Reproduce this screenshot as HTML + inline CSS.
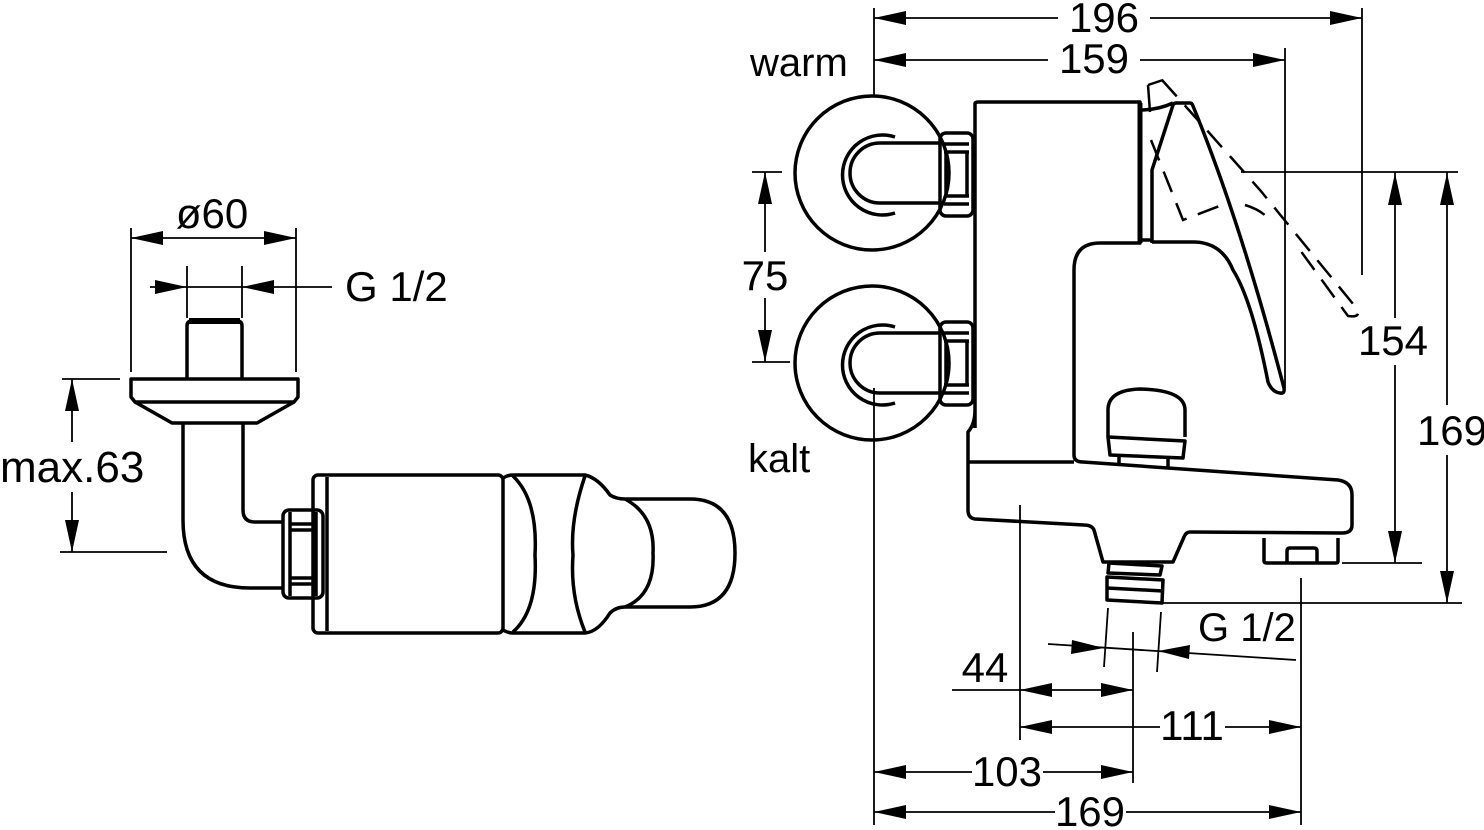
<!DOCTYPE html>
<html><head><meta charset="utf-8"><style>
html,body{margin:0;padding:0;background:#fff;}
svg{display:block;}
text{font-family:"Liberation Sans",sans-serif;fill:#000;}
</style></head><body>
<svg width="1484" height="830" viewBox="0 0 1484 830" xmlns="http://www.w3.org/2000/svg">
<g fill="none" stroke="#000" stroke-width="1.8">
<line x1="131" y1="228" x2="131" y2="372"/><line x1="296" y1="228" x2="296" y2="372"/>
<line x1="131" y1="238" x2="296" y2="238"/>
<line x1="187" y1="266" x2="187" y2="318"/><line x1="242" y1="266" x2="242" y2="318"/>
<line x1="150" y1="287" x2="332" y2="287"/>
<line x1="62" y1="379" x2="120" y2="379"/><line x1="60" y1="552" x2="167" y2="552"/>
<line x1="72" y1="379" x2="72" y2="442"/><line x1="72" y1="492" x2="72" y2="552"/>
<line x1="874" y1="8" x2="874" y2="96"/><line x1="1362" y1="8" x2="1362" y2="275"/>
<line x1="1285" y1="48" x2="1285" y2="388"/>
<line x1="874" y1="18" x2="1058" y2="18"/><line x1="1150" y1="18" x2="1362" y2="18"/>
<line x1="874" y1="60" x2="1048" y2="60"/><line x1="1140" y1="60" x2="1285" y2="60"/>
<line x1="752" y1="172" x2="782" y2="172"/><line x1="752" y1="362" x2="790" y2="362"/>
<line x1="765" y1="172" x2="765" y2="252"/><line x1="765" y1="298" x2="765" y2="362"/>
<line x1="1241" y1="172" x2="1458" y2="172"/>
<line x1="1342" y1="563" x2="1422" y2="563"/><line x1="1163" y1="603" x2="1462" y2="603"/>
<line x1="1395" y1="172" x2="1395" y2="318"/><line x1="1395" y1="365" x2="1395" y2="563"/>
<line x1="1447" y1="172" x2="1447" y2="405"/><line x1="1447" y1="455" x2="1447" y2="603"/>
<line x1="874" y1="388" x2="874" y2="825"/>
<line x1="1020" y1="505" x2="1020" y2="740"/>
<line x1="1133" y1="632" x2="1133" y2="783"/>
<line x1="1301" y1="578" x2="1301" y2="825"/>
<line x1="1108" y1="608" x2="1104" y2="667"/><line x1="1161" y1="612" x2="1157" y2="672"/>
<line x1="1048" y1="644" x2="1296" y2="660"/>
<line x1="952" y1="690" x2="1133" y2="690"/>
<line x1="1020" y1="727" x2="1160" y2="727"/><line x1="1225" y1="727" x2="1301" y2="727"/>
<line x1="874" y1="772" x2="972" y2="772"/><line x1="1043" y1="772" x2="1133" y2="772"/>
<line x1="874" y1="812" x2="1055" y2="812"/><line x1="1126" y1="812" x2="1301" y2="812"/>
</g>
<g fill="#000">
<polygon points="131,238 163,231 163,245"/><polygon points="296,238 264,231 264,245"/>
<polygon points="187,287 155,280 155,294"/><polygon points="242,287 274,280 274,294"/>
<polygon points="72,379 65,411 79,411"/><polygon points="72,552 65,520 79,520"/>
<polygon points="874,18 906,11 906,25"/><polygon points="1362,18 1330,11 1330,25"/>
<polygon points="874,60 906,53 906,67"/><polygon points="1285,60 1253,53 1253,67"/>
<polygon points="765,172 758,204 772,204"/><polygon points="765,362 758,330 772,330"/>
<polygon points="1395,173 1388,205 1402,205"/><polygon points="1395,563 1388,531 1402,531"/>
<polygon points="1447,173 1440,205 1454,205"/><polygon points="1447,603 1440,571 1454,571"/>
<polygon points="1104,648 1072,640 1071,654"/><polygon points="1158,651 1190,645 1189,659"/>
<polygon points="1020,690 1052,683 1052,697"/><polygon points="1133,690 1101,683 1101,697"/>
<polygon points="1020,727 1052,720 1052,734"/><polygon points="1301,727 1269,720 1269,734"/>
<polygon points="874,772 906,765 906,779"/><polygon points="1133,772 1101,765 1101,779"/>
<polygon points="874,812 906,805 906,819"/><polygon points="1301,812 1269,805 1269,819"/>
</g>
<g font-size="40">
<text x="212" y="228" text-anchor="middle" font-size="42">ø60</text>
<text x="345" y="301" font-size="42">G 1/2</text>
<text x="0" y="482" font-size="44">max.63</text>
<text x="1104" y="32" text-anchor="middle" font-size="42">196</text>
<text x="1094" y="73" text-anchor="middle" font-size="42">159</text>
<text x="750" y="76" font-size="40">warm</text>
<text x="748" y="472" font-size="40">kalt</text>
<text x="765" y="290" text-anchor="middle" font-size="42">75</text>
<text x="1393" y="355" text-anchor="middle" font-size="42">154</text>
<text x="1452" y="445" text-anchor="middle" font-size="42">169</text>
<text x="1198" y="641" font-size="40">G 1/2</text>
<text x="985" y="682" text-anchor="middle" font-size="42">44</text>
<text x="1192" y="740" text-anchor="middle" font-size="42">111</text>
<text x="1007" y="786" text-anchor="middle" font-size="42">103</text>
<text x="1090" y="826" text-anchor="middle" font-size="42">169</text>
</g>
<g fill="none" stroke="#000" stroke-width="3.5" stroke-linejoin="round">
<path d="M187,379 V326 Q187,321 192,321 H237 Q242,321 242,326 V379" />
<line x1="189" y1="321" x2="240" y2="321" stroke-width="6"/>
<path d="M131,379 H298 V397 L294,402 H135 L131,397 Z"/>
<path d="M135,402 L172,423 H257 L294,402"/>
<path d="M183,423 V520 Q183,588 250,588 H283"/>
<path d="M243,423 V510 Q243,522 255,522 H283"/>
<rect x="283" y="510" width="40" height="88" rx="6"/>
<path d="M290,512 V596 M316,512 V596 M290,524 H316 M290,530 H316 M290,578 H316 M290,584 H316"/>
<rect x="313" y="475" width="190" height="158" rx="5"/>
<line x1="327" y1="477" x2="327" y2="631"/>
<path d="M503,478 Q508,475 513,475 H585 Q598,478 610,495 Q616,499 625,499 H690 Q735,499 735,553 Q735,607 690,607 H625 Q616,607 610,613 Q598,632 585,633 H513 Q508,633 503,630"/>
<path d="M513,476 Q538,500 535,555 Q538,610 513,632"/>
<path d="M585,476 Q570,520 573,555 Q570,595 585,632"/>
<path d="M625,499 Q655,515 653,553 Q655,595 625,607"/>
</g>
<g fill="none" stroke="#000" stroke-width="3.5" stroke-linejoin="round">
<circle cx="872" cy="173" r="77"/>
<circle cx="872" cy="363" r="77"/>
<path d="M895,137 A40,40 0 1,0 895,213"/>
<path d="M940,143 H880 A30,30 0 0,0 880,203 H940"/>
<path d="M895,327 A40,40 0 1,0 895,403"/>
<path d="M940,333 H880 A30,30 0 0,0 880,393 H940"/>
<rect x="940" y="133" width="33" height="83" rx="6"/>
<path d="M944,144 H969 M944,152 H969 M944,196 H969 M944,204 H969 M946,152 V196 M967,152 V196"/>
<rect x="940" y="322" width="33" height="83" rx="6"/>
<path d="M944,333 H969 M944,341 H969 M944,385 H969 M944,393 H969 M946,341 V385 M967,341 V385"/>
<path d="M975,428 V104 Q975,102 978,102 H1140 V243 H1100 Q1074,243 1074,270 V455 Q1074,462 1083,462 L1338,480 Q1352,482 1352,495 V525 Q1352,533 1342,533 L1190,532 Q1186,532 1184,537 L1173,562 H1103 L1094,530 Q1092,525 1084,525 L975,519 Q968,518 968,510 V432 Q975,424 975,410"/>
<line x1="968" y1="462" x2="1074" y2="462"/>
<line x1="1140" y1="103" x2="1140" y2="243" stroke-width="5"/>
<path d="M1140,240 H1152"/>
<path d="M1140,110 Q1158,110 1173,103"/>
<path d="M1152,243 V170 L1173,105 Q1174,103 1176,103 H1190 Q1192,103 1193,106 Q1240,220 1284,388 Q1285,394 1280,393 Q1272,392 1268,382 Q1252,300 1233,270 Q1222,243 1195,242 H1152"/>
<path d="M1108,437 V410 Q1108,390 1140,389 Q1185,390 1185,410 V437"/>
<path d="M1108,437 L1185,441 L1183,458 L1110,455 Z"/>
<path d="M1119,456 V466 M1168,458 V468"/>
<path d="M1264,538 V561 Q1264,563 1267,563 H1336 Q1338,563 1338,561 V538"/>
<path d="M1287,562 V551 Q1287,548 1290,548 H1314 Q1317,548 1317,551 V562"/>
<path d="M1109,563 L1162,566 L1160,575 L1108,573 Z"/>
<path d="M1107,577 L1163,580 L1162,603 L1107,600 Z"/>
<line x1="1107" y1="588" x2="1163" y2="591"/>
</g>
<g fill="none" stroke="#000" stroke-width="2.5" stroke-dasharray="22,12">
<path d="M1151,140 L1183,220 L1222,205"/>
<path d="M1162,80 L1180,100 L1260,190 L1358,310 Q1360,318 1348,316 L1300,250"/>
<path d="M1245,205 Q1262,210 1272,222"/>
</g>
<path d="M1148,85 L1163,80 M1148,85 L1150,112" fill="none" stroke="#000" stroke-width="2.5"/>
</svg>
</body></html>
